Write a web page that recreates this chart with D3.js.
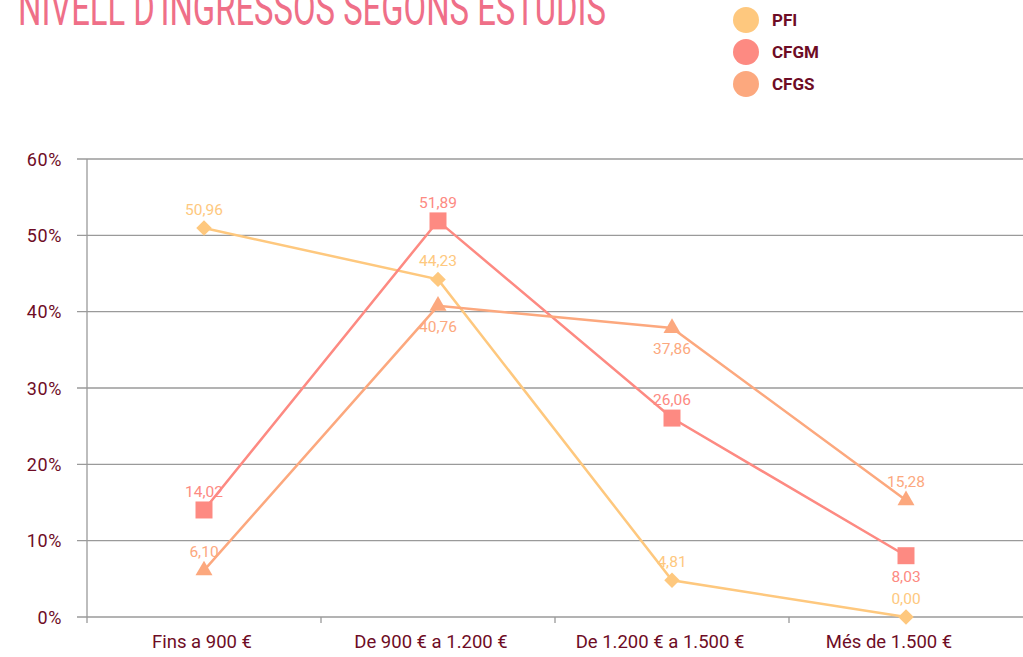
<!DOCTYPE html>
<html><head><meta charset="utf-8">
<script src="https://cdn.jsdelivr.net/npm/d3@7"></script>
<style>
html,body{margin:0;padding:0;background:#fff;}
svg{display:block;}
</style></head>
<body>
<svg id="chart" width="1023" height="657"></svg>
<script>
const title = "NIVELL D'INGRESSOS SEGONS ESTUDIS";
const categories = ["Fins a 900 €", "De 900 € a 1.200 €", "De 1.200 € a 1.500 €", "Més de 1.500 €"];
const seriesNames = ["PFI", "CFGM", "CFGS"];
const pfiValues = [50.96, 44.23, 4.81, 0.00];
const cfgmValues = [14.02, 51.89, 26.06, 8.03];
const cfgsValues = [6.10, 40.76, 37.86, 15.28];
const yTicks = [0, 10, 20, 30, 40, 50, 60];
// label placement: 1 = above, -1 = below
const pfiLabelPos = [1, 1, 1, 1];
const cfgmLabelPos = [1, 1, 1, -1];
const cfgsLabelPos = [1, -1, -1, 1];

(function () {
const colors = {PFI: "#fec87e", CFGM: "#fd8a82", CFGS: "#fca87e"};
const textColor = "#6e0c25";
const series = [
  {name: "PFI", values: pfiValues, pos: pfiLabelPos, symbol: d3.symbolSquare, size: 120, rotate: 45},
  {name: "CFGM", values: cfgmValues, pos: cfgmLabelPos, symbol: d3.symbolSquare, size: 289, rotate: 0},
  {name: "CFGS", values: cfgsValues, pos: cfgsLabelPos, symbol: d3.symbolTriangle, size: 125, rotate: 0}
];

const svg = d3.select("#chart");
const pLeft = 87, pRight = 1023, pTop = 159, pBottom = 617;

const x = d3.scalePoint().domain(categories).range([pLeft, pRight]).padding(0.5);
const xb = d3.scaleBand().domain(categories).range([pLeft, pRight]);
const xLabel = d3.scalePoint().domain(categories).range([pLeft, 1003]).padding(0.5);
const y = d3.scaleLinear().domain([0, 60]).range([pBottom, pTop]);

// title
svg.append("text")
  .attr("x", 18).attr("y", 25)
  .attr("font-family", "Roboto").attr("font-weight", 400)
  .attr("font-size", 50)
  .attr("fill", "#ef6f88")
  .attr("textLength", 588).attr("lengthAdjust", "spacingAndGlyphs")
  .text(title);

// legend
const lg = svg.append("g");
seriesNames.forEach((n, i) => {
  lg.append("circle").attr("cx", 746).attr("cy", 20 + i * 32).attr("r", 13).attr("fill", colors[n]);
  lg.append("text").attr("x", 772).attr("y", 26 + i * 32)
    .attr("font-family", "Roboto").attr("font-weight", 700).attr("font-size", 17)
    .attr("fill", textColor).text(n);
});

// gridlines
svg.append("g").selectAll("line").data(yTicks).join("line")
  .attr("x1", 77).attr("x2", pRight)
  .attr("y1", d => y(d)).attr("y2", d => y(d))
  .attr("stroke", "#9a9a9a").attr("stroke-width", 1.3);

// y axis
const yAxis = d3.axisLeft(y).tickValues(yTicks).tickSize(0).tickPadding(0)
  .tickFormat(d => d + "%");
const yg = svg.append("g").attr("transform", `translate(${pLeft},0)`).call(yAxis);
yg.select(".domain").remove();
yg.selectAll("text").attr("x", -25).attr("dy", "0.35em")
  .attr("font-family", "Roboto").attr("font-size", 18).attr("letter-spacing", 0.6).attr("fill", textColor);
svg.append("line").attr("x1", pLeft).attr("x2", pLeft).attr("y1", pTop).attr("y2", pBottom + 6)
  .attr("stroke", "#9a9a9a").attr("stroke-width", 1.3);

// x axis (labels)
const xAxis = d3.axisBottom(xLabel).tickSize(0).tickPadding(0);
const xg = svg.append("g").attr("transform", `translate(0,${pBottom})`).call(xAxis);
xg.select(".domain").remove();
xg.selectAll("text").attr("y", 31).attr("dy", 0)
  .attr("font-family", "Roboto").attr("font-size", 18.5).attr("fill", textColor);
svg.append("g").selectAll("line").data(categories.slice(1)).join("line")
  .attr("x1", d => xb(d)).attr("x2", d => xb(d))
  .attr("y1", pBottom).attr("y2", pBottom + 6)
  .attr("stroke", "#9a9a9a").attr("stroke-width", 1.3);

// lines
const line = d3.line().x((d, i) => x(categories[i])).y(d => y(d));
series.forEach(s => {
  svg.append("path").datum(s.values)
    .attr("d", line).attr("fill", "none")
    .attr("stroke", colors[s.name]).attr("stroke-width", 2.5);
});
// markers
series.forEach(s => {
  const sym = d3.symbol().type(s.symbol).size(s.size);
  svg.append("g").selectAll("path").data(s.values).join("path")
    .attr("d", sym)
    .attr("transform", (d, i) => `translate(${x(categories[i])},${y(d)}) rotate(${s.rotate})`)
    .attr("fill", colors[s.name]);
});
// labels
const fmt = v => v.toFixed(2).replace(".", ",");
series.forEach(s => {
  svg.append("g").selectAll("text").data(s.values).join("text")
    .attr("x", (d, i) => x(categories[i]))
    .attr("y", (d, i) => y(d) + (s.pos[i] > 0 ? -13 : 26))
    .attr("text-anchor", "middle")
    .attr("font-family", "Roboto").attr("font-size", 15.5)
    .attr("fill", colors[s.name])
    .text(fmt);
});
})();
</script>
</body></html>
